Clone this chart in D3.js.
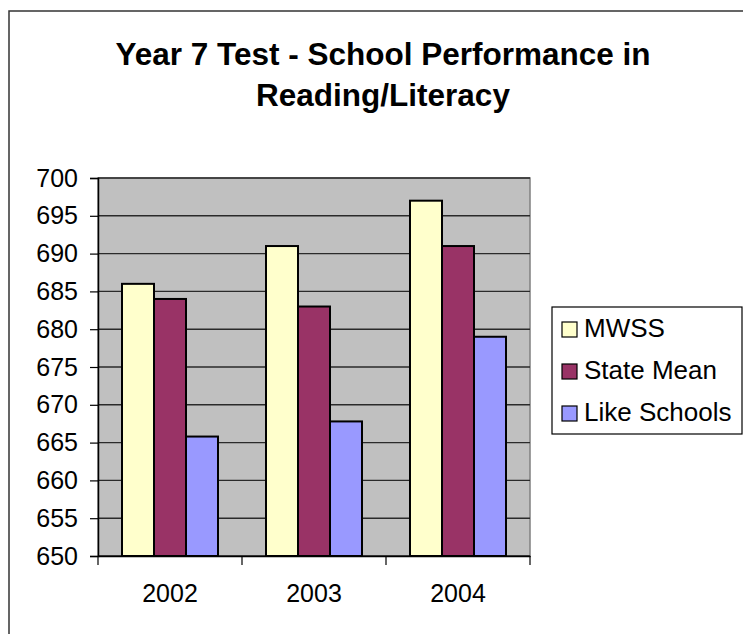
<!DOCTYPE html>
<html>
<head>
<meta charset="utf-8">
<script src="https://cdn.jsdelivr.net/npm/d3@7/dist/d3.min.js"></script>
<style>
  html, body { margin: 0; padding: 0; background: #fff; }
  svg { display: block; }
  text { font-family: "Liberation Sans", Arial, sans-serif; }
</style>
</head>
<body>
<svg id="chart" width="743" height="634"></svg>
<script>
const titleLines = ["Year 7 Test - School Performance in", "Reading/Literacy"];
const categories = ["2002", "2003", "2004"];
const seriesNames = ["MWSS", "State Mean", "Like Schools"];
const seriesColors = ["#FFFFCC", "#993366", "#9999FF"];
const mwss = [686, 691, 697];
const stateMean = [684, 683, 691];
const likeSchools = [665.8, 667.8, 679];
const yTicks = [650, 655, 660, 665, 670, 675, 680, 685, 690, 695, 700];

const seriesValues = [mwss, stateMean, likeSchools];
const data = categories.map((c, i) => ({
  cat: c,
  vals: seriesNames.map((s, j) => ({ name: s, value: seriesValues[j][i], color: seriesColors[j] }))
}));

const svg = d3.select("#chart");

// outer chart border
svg.append("rect")
  .attr("x", 9).attr("y", 11).attr("width", 760).attr("height", 640)
  .attr("fill", "none").attr("stroke", "#333").attr("stroke-width", 1.5);

// title
svg.append("g").selectAll("text").data(titleLines).join("text")
  .attr("x", 383).attr("y", (d, i) => 65 + i * 41)
  .attr("text-anchor", "middle")
  .attr("font-size", 31.5).attr("font-weight", "bold")
  .attr("fill", "#000")
  .text(d => d);

const plot = { left: 98, right: 530, top: 178, bottom: 556 };

const x0 = d3.scaleBand().domain(categories).range([plot.left, plot.right]).paddingInner(1/3).paddingOuter(1/6);
const x1 = d3.scaleBand().domain(seriesNames).range([0, x0.bandwidth()]);
const y = d3.scaleLinear().domain([650, 700]).range([plot.bottom, plot.top]);

// plot background
svg.append("rect")
  .attr("x", plot.left).attr("y", plot.top)
  .attr("width", plot.right - plot.left).attr("height", plot.bottom - plot.top)
  .attr("fill", "#C0C0C0").attr("stroke", "#808080").attr("stroke-width", 1.5);

// gridlines
svg.append("g").selectAll("line").data(yTicks).join("line")
  .attr("x1", plot.left).attr("x2", plot.right)
  .attr("y1", d => y(d)).attr("y2", d => y(d))
  .attr("stroke", "#2a2a2a").attr("stroke-width", 1.4);

// bars
const groups = svg.append("g").selectAll("g").data(data).join("g")
  .attr("transform", d => `translate(${x0(d.cat)},0)`);
groups.selectAll("rect").data(d => d.vals).join("rect")
  .attr("x", d => x1(d.name))
  .attr("y", d => y(d.value))
  .attr("width", x1.bandwidth())
  .attr("height", d => y(650) - y(d.value))
  .attr("fill", d => d.color)
  .attr("stroke", "#000").attr("stroke-width", 2);

// y axis
const yAxis = svg.append("g")
  .attr("transform", `translate(${plot.left},0)`)
  .call(d3.axisLeft(y).tickValues(yTicks).tickFormat(d3.format("d")).tickSize(8).tickPadding(12));
yAxis.select(".domain").attr("stroke", "#000").attr("stroke-width", 1.5);
yAxis.selectAll(".tick line").attr("stroke", "#000").attr("stroke-width", 1.2);
yAxis.selectAll(".tick text")
  .attr("font-size", 25).attr("fill", "#000")
  .attr("font-family", "'Liberation Sans', Arial, sans-serif");

// x axis
const xAxis = svg.append("g")
  .attr("transform", `translate(0,${plot.bottom})`)
  .call(d3.axisBottom(x0).tickSize(0).tickPadding(28));
xAxis.select(".domain").attr("stroke", "#000").attr("stroke-width", 1.5);
xAxis.selectAll(".tick text")
  .attr("font-size", 25).attr("fill", "#000")
  .attr("font-family", "'Liberation Sans', Arial, sans-serif");
// category boundary tick marks
const step = x0.step();
const boundaries = d3.range(categories.length + 1).map(i => plot.left + i * step);
svg.append("g").selectAll("line").data(boundaries).join("line")
  .attr("x1", d => d).attr("x2", d => d)
  .attr("y1", plot.bottom).attr("y2", plot.bottom + 9)
  .attr("stroke", "#000").attr("stroke-width", 1.2);

// legend
const legend = svg.append("g");
legend.append("rect")
  .attr("x", 552).attr("y", 307).attr("width", 190).attr("height", 127)
  .attr("fill", "#fff").attr("stroke", "#000").attr("stroke-width", 1.2);
const items = legend.selectAll("g.item").data(seriesNames).join("g")
  .attr("class", "item")
  .attr("transform", (d, i) => `translate(0,${i * 42})`);
items.append("rect")
  .attr("x", 562).attr("y", 322).attr("width", 15).attr("height", 15)
  .attr("fill", (d, i) => seriesColors[i]).attr("stroke", "#000").attr("stroke-width", 1.2);
items.append("text")
  .attr("x", 584).attr("y", 337)
  .attr("font-size", 26).attr("fill", "#000")
  .text(d => d);
</script>
</body>
</html>
